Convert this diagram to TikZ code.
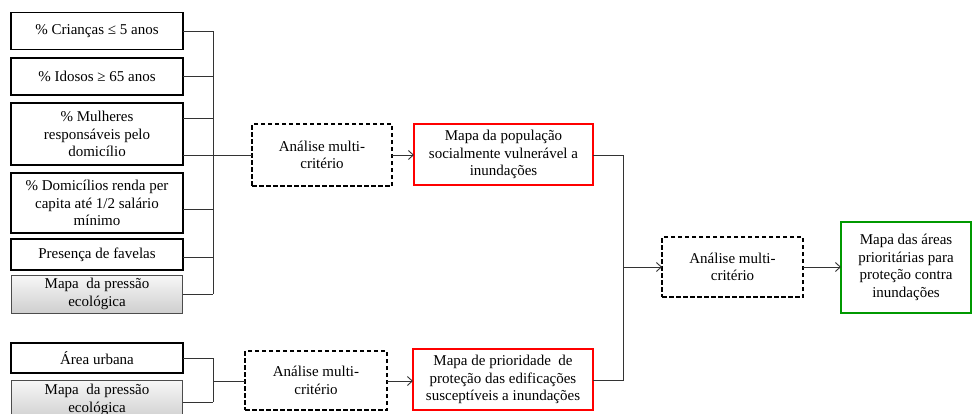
\documentclass[tikz,border=0pt]{standalone}
\usepackage{fontspec}
\setmainfont{Liberation Serif}
\usetikzlibrary{arrows.meta,shadows}
\begin{document}
\begin{tikzpicture}[x=1pt,y=-1pt,
  every node/.style={font=\fontsize{15}{17.5}\selectfont, align=center, inner sep=0pt, outer sep=0pt},
  inbox/.style={draw=black, line width=1.8pt, fill=white, rectangle},
  graybox/.style={draw=gray!60!black, line width=0.8pt, rectangle, top color=gray!6, bottom color=gray!38},
  dbox/.style={draw=black, line width=1.8pt, dash pattern=on 4.5pt off 2.5pt, fill=white, rectangle},
  rbox/.style={draw=red, line width=1.8pt, fill=white, rectangle},
  gbox/.style={draw=green!60!black, line width=1.8pt, fill=white, rectangle},
  conn/.style={draw=black!80, line width=0.9pt},
  arr/.style={conn, -{Straight Barb[length=5pt,width=9pt,line width=0.9pt]}}
]
\useasboundingbox (0,0) rectangle (973,413);
\clip (0,0) rectangle (973,413);
\fill[white] (0,0) rectangle (973,413);

% left input boxes
\node[inbox, minimum width=172pt, minimum height=37pt] (c1) at (97,31) {\% Crianças ≤ 5 anos};
\node[inbox, minimum width=172pt, minimum height=37pt] (c2) at (97,76.5) {\% Idosos ≥ 65 anos};
\node[inbox, minimum width=172pt, minimum height=62pt] (c3) at (97,134) {\% Mulheres\\responsáveis pelo\\domicílio};
\node[inbox, minimum width=172pt, minimum height=60pt] (c4) at (97,203) {\% Domicílios renda per\\capita até 1/2 salário\\mínimo};
\node[inbox, minimum width=172pt, minimum height=31pt] (c5) at (97,254.5) {Presença de favelas};
\node[graybox, minimum width=171pt, minimum height=38pt] (c6) at (97,294) {Mapa ~da pressão\\ecológica};

\node[inbox, minimum width=172pt, minimum height=30pt] (u1) at (97,358) {Área urbana};
\node[graybox, minimum width=171pt, minimum height=40pt] (u2) at (97,400) {Mapa ~da pressão\\ecológica};

% analysis boxes
\node[dbox, minimum width=140pt, minimum height=62pt] (a1) at (322,155) {Análise multi-\\critério};
\node[dbox, minimum width=142pt, minimum height=59pt] (a2) at (316,380.5) {Análise multi-\\critério};
\node[dbox, minimum width=141pt, minimum height=60pt] (a3) at (732.5,267) {Análise multi-\\critério};

% result boxes
\node[rbox, minimum width=179pt, minimum height=61pt] (r1) at (503.5,154.5) {Mapa da população\\socialmente vulnerável a\\inundações};
\node[rbox, minimum width=180pt, minimum height=61pt] (r2) at (503,379.5) {Mapa de prioridade ~de\\proteção das edificações\\susceptíveis a inundações};
\node[gbox, minimum width=130pt, minimum height=91pt] (g) at (906,267.5) {Mapa das áreas\\prioritárias para\\proteção contra\\inundações};

% bus coordinates
\coordinate (b1top) at (213,31);
\coordinate (b1bot) at (213,294);
\coordinate (b2top) at (213,358);
\coordinate (b2bot) at (213,402);
\coordinate (b3top) at (623,155);
\coordinate (b3bot) at (623,380);

% upper bus
\draw[conn] (c1.east) -- (b1top) -- (b1bot);
\draw[conn] (c2.east) -- (c2.east -| b1top);
\draw[conn] ([yshift=16pt]c3.east) -- ([yshift=16pt]c3.east -| b1top);
\draw[conn] (c4.east |- 0,209) -- (213,209);
\draw[conn] (c5.east |- 0,257) -- (213,257);
\draw[conn] (c6.east) -- (b1bot);
\draw[conn] (c3.east |- a1.west) -- (a1.west);

% lower bus
\draw[conn] (u1.east) -- (b2top) -- (b2bot);
\draw[conn] (u2.east |- b2bot) -- (b2bot);
\draw[conn] (213,381) -- (a2.west |- 0,381);

% arrows to results
\draw[arr] (a1.east) -- (r1.west |- a1.east);
\draw[arr] (a2.east |- 0,381) -- (r2.west |- 0,381);

% right bus
\draw[conn] (r1.east |- b3top) -- (b3top) -- (b3bot) -- (r2.east |- b3bot);
\draw[arr] (b3top |- a3.west) -- (a3.west);
\draw[arr] (a3.east) -- (g.west |- a3.east);
\end{tikzpicture}
\end{document}
